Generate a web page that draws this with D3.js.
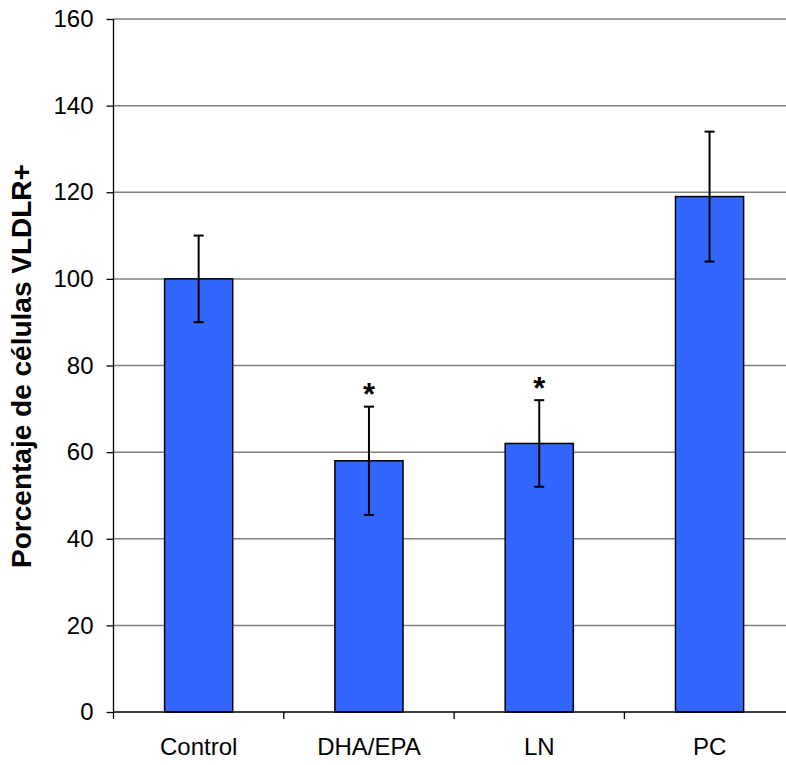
<!DOCTYPE html>
<html><head><meta charset="utf-8">
<script src="https://cdn.jsdelivr.net/npm/d3@7"></script>
<style>body{margin:0;background:#fff}svg{display:block}</style>
</head><body><svg id="c" width="786" height="765"></svg>
<script>
const categories = ["Control", "DHA/EPA", "LN", "PC"];
const values = [100, 58, 62, 119];
const errLow = [90, 45.5, 52, 104];
const errHigh = [110, 70.5, 72, 134];
const marks = ["", "*", "*", ""];
const yTicks = [0, 20, 40, 60, 80, 100, 120, 140, 160];

const svg = d3.select("#c");
const pLeft = 113.5, pRight = 794.7, pTop = 19, pBottom = 712;
const x = d3.scaleBand().domain(categories).range([pLeft, pRight]).paddingInner(0.6).paddingOuter(0.3);
const y = d3.scaleLinear().domain([0, 160]).range([pBottom, pTop]);
const font = "'Liberation Sans', Arial, sans-serif";

// gridlines
svg.append("g").selectAll("line").data(yTicks.filter(d => d > 0)).join("line")
  .attr("x1", pLeft).attr("x2", 786).attr("y1", d => y(d)).attr("y2", d => y(d))
  .attr("stroke", "#808080").attr("stroke-width", 1.5);

// bars
svg.append("g").selectAll("rect").data(categories).join("rect")
  .attr("x", d => x(d)).attr("width", x.bandwidth())
  .attr("y", (d, i) => y(values[i])).attr("height", (d, i) => y(0) - y(values[i]))
  .attr("fill", "#3366FF").attr("stroke", "#000").attr("stroke-width", 1.5);

// error bars
const eb = svg.append("g").attr("stroke", "#000").attr("stroke-width", 2);
categories.forEach((c, i) => {
  const cx = x(c) + x.bandwidth() / 2;
  eb.append("line").attr("x1", cx).attr("x2", cx).attr("y1", y(errLow[i])).attr("y2", y(errHigh[i]));
  eb.append("line").attr("x1", cx - 5).attr("x2", cx + 5).attr("y1", y(errLow[i])).attr("y2", y(errLow[i]));
  eb.append("line").attr("x1", cx - 5).attr("x2", cx + 5).attr("y1", y(errHigh[i])).attr("y2", y(errHigh[i]));
});

// asterisks
svg.append("g").selectAll("text").data(categories).join("text")
  .attr("x", d => x(d) + x.bandwidth() / 2)
  .attr("y", (d, i) => y(errHigh[i]) - 1.5)
  .attr("text-anchor", "middle").attr("font-family", font).attr("font-weight", "bold")
  .attr("font-size", 31).text((d, i) => marks[i]);

// y axis
const yAxis = svg.append("g").attr("transform", `translate(${pLeft},0)`)
  .call(d3.axisLeft(y).tickValues(yTicks).tickSize(7).tickPadding(13));
yAxis.select(".domain").attr("stroke", "#000").attr("stroke-width", 1.3).attr("d", `M-0,${pTop}V${pBottom}`);
yAxis.selectAll(".tick line").attr("stroke", "#000").attr("stroke-width", 1.3);
yAxis.selectAll("text").attr("font-family", font).attr("font-size", 24).attr("fill", "#000");

// x axis
const xb = d3.scaleLinear().domain([0, 4]).range([pLeft, pRight]);
const xg = svg.append("g");
xg.append("line").attr("x1", pLeft).attr("x2", 786).attr("y1", pBottom).attr("y2", pBottom)
  .attr("stroke", "#000").attr("stroke-width", 1.3);
xg.selectAll(".t").data([0, 1, 2, 3, 4]).join("line").attr("class", "t")
  .attr("x1", d => xb(d)).attr("x2", d => xb(d)).attr("y1", pBottom).attr("y2", pBottom + 7)
  .attr("stroke", "#000").attr("stroke-width", 1.3);
xg.selectAll("text").data(categories).join("text")
  .attr("x", d => x(d) + x.bandwidth() / 2).attr("y", 755)
  .attr("text-anchor", "middle").attr("font-family", font).attr("font-size", 24).text(d => d);

// y title
svg.append("text").attr("transform", "translate(31,366) rotate(-90)")
  .attr("text-anchor", "middle").attr("font-family", font).attr("font-weight", "bold")
  .attr("font-size", 28).text("Porcentaje de células VLDLR+");
</script></body></html>
